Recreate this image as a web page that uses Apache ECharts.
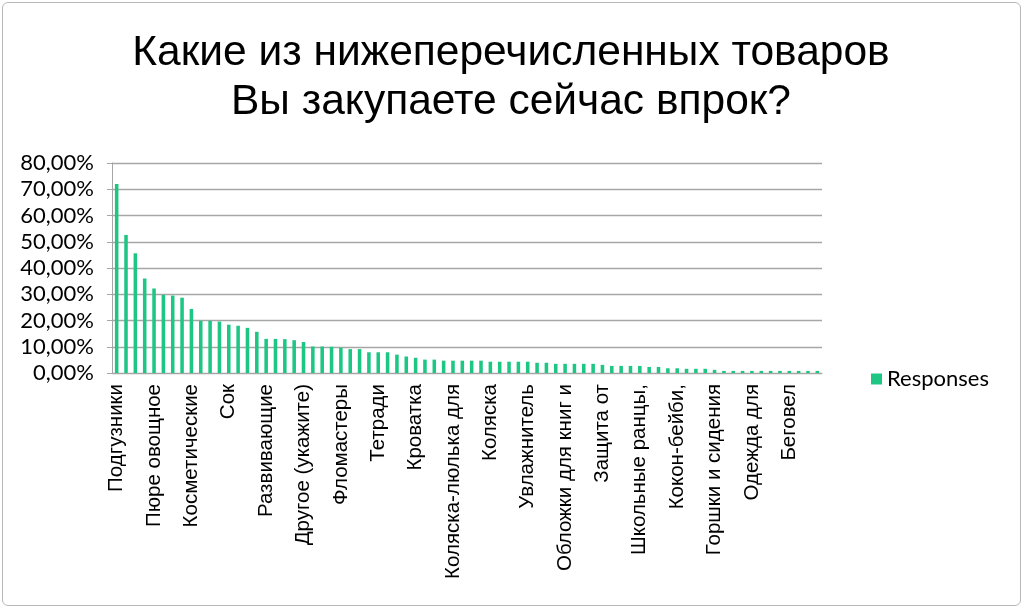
<!DOCTYPE html>
<html>
<head>
<meta charset="utf-8">
<script src="https://cdn.jsdelivr.net/npm/echarts@6/dist/echarts.min.js"></script>
<style>
    html, body { margin: 0; padding: 0; background: #fff; }
    #frame {
        position: absolute; left: 2px; top: 2px; width: 1017px; height: 602px;
        border: 1px solid #b8b8b8; border-radius: 6px;
    }
    #chart { position: absolute; left: 0; top: 0; width: 1024px; height: 616px; }
</style>
</head>
<body>
<div id="frame"></div>
<div id="chart"></div>
<script>
    // Labels shown under every 4th bar
    const tickLabels = [
        'Подгузники', 'Пюре овощное', 'Косметические', 'Сок', 'Развивающие',
        'Другое (укажите)', 'Фломастеры', 'Тетради', 'Кроватка', 'Коляска-люлька для',
        'Коляска', 'Увлажнитель', 'Обложки для книг и', 'Защита от', 'Школьные ранцы,',
        'Кокон-бейби,', 'Горшки и сидения', 'Одежда для', 'Беговел'
    ];

    // share of respondents, %
    const responses = [
        72.0, 52.6, 45.6, 36.0, 32.2, 29.8, 29.5, 28.7, 24.4, 19.9,
        19.9, 19.6, 18.4, 18.0, 17.2, 15.7, 13.0, 13.0, 12.9, 12.5,
        11.8, 10.1, 10.1, 10.0, 9.6, 9.1, 9.1, 7.9, 7.9, 7.9,
        7.0, 6.3, 5.8, 5.1, 5.1, 4.7, 4.7, 4.7, 4.7, 4.7,
        4.3, 4.3, 4.3, 4.3, 4.3, 3.9, 3.9, 3.5, 3.5, 3.5,
        3.5, 3.5, 3.1, 2.7, 2.7, 2.7, 2.7, 2.3, 2.3, 1.8,
        1.8, 1.6, 1.6, 1.6, 1.2, 0.8, 0.8, 0.8, 0.8, 0.8,
        0.8, 0.8, 0.8, 0.8, 0.8, 0.8
    ];

    const categories = responses.map(function (v, i) {
        return i % 4 === 0 ? tickLabels[i / 4] : '';
    });

    let chart = echarts.init(document.getElementById('chart'), null, { renderer: 'canvas' });

    let option = {
        animation: false,
        title: {
            text: 'Какие из нижеперечисленных товаров\nВы закупаете сейчас впрок?',
            left: 506,
            textAlign: 'center',
            top: 24,
            textStyle: {
                fontFamily: 'Liberation Sans',
                fontWeight: 'normal',
                fontSize: 42.5,
                lineHeight: 49,
                color: '#000'
            }
        },
        legend: {
            data: ['Responses'],
            left: 866,
            top: 363,
            icon: 'rect',
            itemWidth: 11,
            itemHeight: 11,
            itemGap: 5,
            textStyle: {
                fontFamily: 'Lato',
                fontSize: 22,
                color: '#000'
            }
        },
        grid: {
            left: 112,
            right: 202,
            top: 163,
            bottom: 243
        },
        xAxis: {
            type: 'category',
            data: categories,
            axisLine: { lineStyle: { color: '#a6a6a6', width: 1 } },
            axisTick: { interval: 0, length: 5, lineStyle: { color: '#a6a6a6' } },
            axisLabel: {
                interval: 3,
                rotate: 90,
                margin: 11,
                fontFamily: 'Liberation Sans',
                fontSize: 20.5,
                color: '#000'
            }
        },
        yAxis: {
            type: 'value',
            min: 0,
            max: 80,
            interval: 10,
            axisLine: { show: true, lineStyle: { color: '#a6a6a6', width: 1 } },
            axisTick: { show: true, length: 5, lineStyle: { color: '#a6a6a6' } },
            splitLine: { lineStyle: { color: '#a6a6a6', width: 1.3 } },
            axisLabel: {
                margin: 18,
                fontFamily: 'Lato',
                fontSize: 22,
                color: '#000',
                formatter: function (v) {
                    return v.toFixed(2).replace('.', ',') + '%';
                }
            }
        },
        series: [
            {
                name: 'Responses',
                type: 'bar',
                data: responses,
                barWidth: '38%',
                itemStyle: { color: '#1dc783' }
            }
        ]
    };
    chart.setOption(option);
</script>
</body>
</html>
